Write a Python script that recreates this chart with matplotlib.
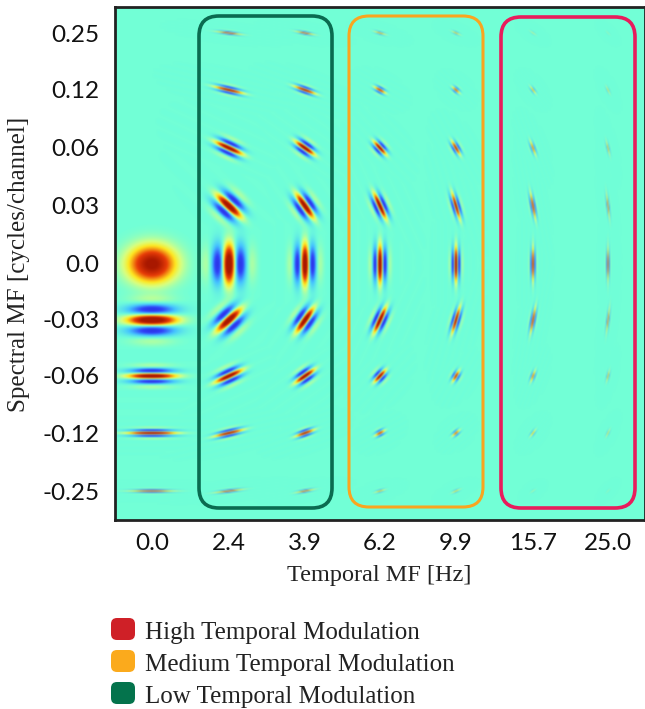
import numpy as np
import matplotlib
matplotlib.use("Agg")
import matplotlib.pyplot as plt
from matplotlib.colors import LinearSegmentedColormap
from matplotlib.patches import FancyBboxPatch

temporal_labels = ["0.0", "2.4", "3.9", "6.2", "9.9", "15.7", "25.0"]
spectral_labels = ["0.25", "0.12", "0.06", "0.03", "0.0", "-0.03", "-0.06", "-0.12", "-0.25"]

# stripe period, in pixels (0 = no stripes that way)
period_x = [0, 26, 17, 11, 7, 4.4, 2.8]
period_y = [-3, -6, -12, -24, 0, 24, 12, 6, 3]

# peak strength of every filter, rows top to bottom
strength = [
    [0.00, 0.65, 0.60, 0.45, 0.40, 0.20, 0.12],
    [0.00, 0.90, 0.85, 0.70, 0.60, 0.40, 0.30],
    [0.00, 1.00, 1.00, 0.90, 0.75, 0.50, 0.40],
    [0.00, 1.00, 1.00, 1.00, 0.85, 0.70, 0.50],
    [1.00, 1.00, 1.00, 1.00, 1.00, 0.80, 0.70],
    [1.00, 1.00, 1.00, 1.00, 0.85, 0.70, 0.50],
    [1.00, 1.00, 1.00, 0.90, 0.70, 0.50, 0.40],
    [1.00, 0.90, 0.85, 0.65, 0.55, 0.35, 0.30],
    [0.70, 0.60, 0.55, 0.40, 0.35, 0.15, 0.10],
]

# how far each filter reaches along its stripes, pixels
stripe_len = [
    [0, 8, 6, 4, 3, 2.5, 2],
    [0, 9, 7, 4, 3, 3, 3],
    [0, 9, 7, 5.5, 5, 5, 5],
    [0, 10, 9, 8.5, 8.5, 8.5, 8.5],
    [0, 13, 13, 12, 11, 11, 11],
    [16, 10, 9, 8.5, 8.5, 8.5, 8.5],
    [15, 9, 7, 5, 4, 4, 4],
    [15, 9, 6, 3.5, 3, 3, 3],
    [14, 9, 6, 3.5, 3, 2, 2],
]

legend_names = ["High Temporal Modulation", "Medium Temporal Modulation", "Low Temporal Modulation"]
legend_colors = ["#cf2027", "#fbaa1c", "#04734c"]

W, H = 645, 709
left, right, top, bottom = 115, 645, 7, 520
col_px = [152, 229, 305, 380, 456, 533, 608]
row_px = [33, 90, 148, 206, 264, 320, 376, 433, 491]

bg = "#70ffd8"
cmap = LinearSegmentedColormap.from_list("strf", [
    (0.00, "#2020c0"), (0.22, "#3040f8"), (0.38, "#45c4ff"), (0.50, bg),
    (0.60, "#d8ff80"), (0.68, "#ffe820"), (0.84, "#e83c08"), (1.00, "#a81800")])

# work on a fine grid, colour it, then shrink it so thin stripes blur together
ss = 4
xs = left + (np.arange((right - left) * ss) + 0.5) / ss
ys = top + (np.arange((bottom - top) * ss) + 0.5) / ss
gx, gy = np.meshgrid(xs, ys)
img = np.zeros(gx.shape)

for r in range(len(spectral_labels)):
    for c in range(len(temporal_labels)):
        if strength[r][c] == 0:
            continue
        dx = gx - col_px[c]
        dy = gy - row_px[r]
        fx = 1 / period_x[c] if period_x[c] else 0
        fy = 1 / period_y[r] if period_y[r] else 0
        f = np.hypot(fx, fy)
        if f == 0:
            # plain blob in the first column
            img += 1.05 * strength[r][c] * np.exp(-(dx / 16.0) ** 2 / 2 - (dy / 12.5) ** 2 / 2)
            continue
        u = (fx * dx + fy * dy) / f
        v = (-fy * dx + fx * dy) / f
        env = np.exp(-(u / (0.43 / f)) ** 2 / 2 - (v / stripe_len[r][c]) ** 2 / 2)
        img += 1.25 * strength[r][c] * env * np.cos(2 * np.pi * f * u)

rgb = cmap((np.clip(img, -1, 1) + 1) / 2)[:, :, :3]
rgb = rgb.reshape((bottom - top), ss, (right - left), ss, 3).mean(axis=(1, 3))

# soft blur, the reference is a low resolution picture
for axis in (0, 1):
    rgb = (np.roll(rgb, 1, axis=axis) + 2 * rgb + np.roll(rgb, -1, axis=axis)) / 4

fig = plt.figure(figsize=(W / 100, H / 100), dpi=100)
ax = fig.add_axes([left / W, 1 - bottom / H, (right - left) / W, (bottom - top) / H])
ax.imshow(rgb, extent=[left, right, bottom, top], aspect="auto", interpolation="bilinear")
ax.set_xticks(col_px)
ax.set_xticklabels(temporal_labels, family="Lato", fontsize=17.5, color="#111111")
ax.set_yticks(row_px)
ax.set_yticklabels(spectral_labels, family="Lato", fontsize=17.5, color="#111111")
ax.tick_params(length=0)
ax.tick_params(axis="x", pad=9)
ax.tick_params(axis="y", pad=11)
for s in ax.spines.values():
    s.set_linewidth(2)
    s.set_color("#222222")

# overlay in pixel coordinates for the boxes and the legend
ov = fig.add_axes([0, 0, 1, 1])
ov.set_xlim(0, W)
ov.set_ylim(H, 0)
ov.axis("off")

boxes = [(199, 16, 133, 492, "#0a6b50", 2.6), (349, 16, 134, 491, "#f9a51f", 2.2), (501, 17, 134, 491, "#e81c5c", 2.6)]
for bx, by, bw, bh, col, lw in boxes:
    ov.add_patch(FancyBboxPatch((bx + 20, by + 20), bw - 40, bh - 40, boxstyle="round,pad=20,rounding_size=20",
                                fc="none", ec=col, lw=lw))

ov.text(379, 575, "Temporal MF [Hz]", family="Liberation Serif", fontsize=17.5, color="#222222", ha="center", va="center")
ov.text(19, 264, "Spectral MF [cycles/channel]", family="Liberation Serif", fontsize=18, color="#222222",
        rotation=90, ha="center", va="center")

for i, name in enumerate(legend_names):
    yy = 629 + i * 32
    ov.add_patch(FancyBboxPatch((116, yy - 6), 14, 12, boxstyle="round,pad=5,rounding_size=6",
                                fc=legend_colors[i], ec="none"))
    ov.text(145, yy + 4, name, family="Liberation Serif", fontsize=18, color="#222222", ha="left", va="center")

fig.savefig("out.png", dpi=100)
